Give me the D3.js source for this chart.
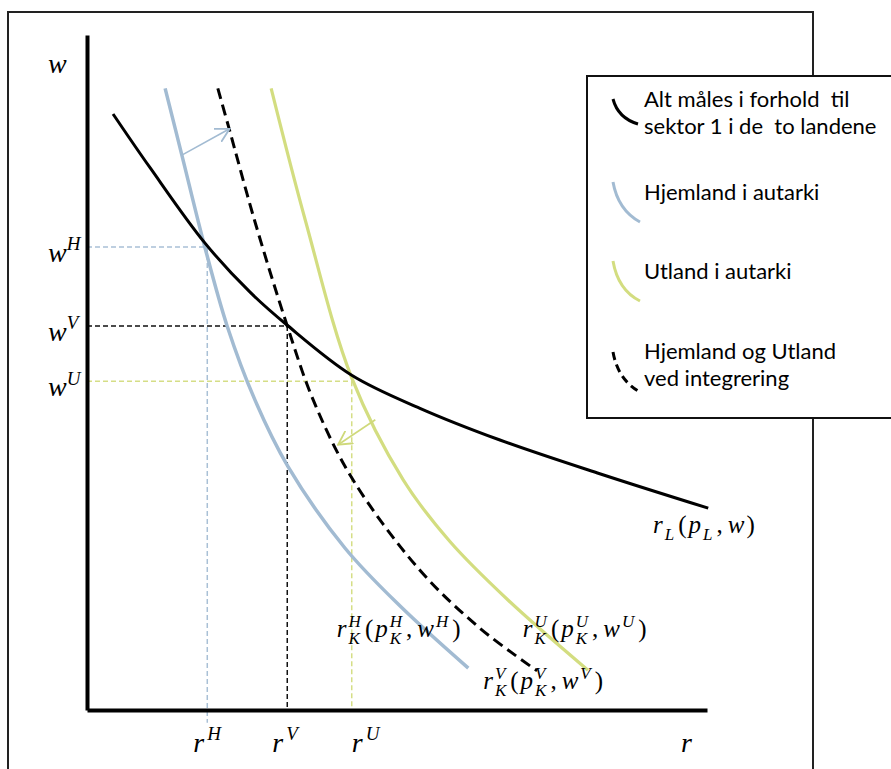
<!DOCTYPE html>
<html><head><meta charset="utf-8">
<script src="https://cdn.jsdelivr.net/npm/d3@7"></script>
<style>body{margin:0;background:#fff;overflow:hidden}</style>
</head><body>
<svg id="c" width="891" height="769"></svg>
<script>
// ---- data (r on x, w on y) ----
const curveL = [[4.2,88.3],[10.2,80.3],[19.0,69.2],[26.3,61.9],[32.3,57.0],[42.7,49.6],[53.7,44.7],[66.6,40.0],[82.7,35.0],[100.2,29.9]];
const curveH = [[12.6,92.1],[15.3,82.2],[19.0,68.6],[22.6,56.9],[27.1,45.9],[32.4,36.1],[41.6,24.0],[50.5,15.4],[61.5,6.2]];
const curveV = [[21.1,92.1],[22.9,86.2],[27.1,72.3],[32.3,56.9],[36.5,45.9],[42.7,34.4],[53.7,20.7],[63.4,12.1],[72.6,5.8]];
const curveU = [[29.7,92.1],[35.2,72.6],[42.7,49.2],[51.0,34.1],[58.5,25.0],[67.9,16.3],[80.8,5.9]];
const eqKeys = ["H","V","U"];
const eqR = [19.4, 32.3, 42.7];
const eqW = [68.6, 56.9, 48.7];
const eqGuideBottom = [-1.9, 0, -0.3];
const arrowBlue = [[15.3,82.2],[23.0,86.1]];
const arrowGreen = [[46.5,43.0],[40.5,39.3]];
const legendLabels = [["Alt måles i forhold  til","sektor 1 i de  to landene"],["Hjemland i autarki"],["Utland i autarki"],["Hjemland og Utland","ved integrering"]];

// ---- styles ----
const BLUE = "#a2bbd2", GREEN = "#d3dd80", BLUE_G = "#a9c0d6", GREEN_G = "#d5de86";
const MATH = "'Liberation Serif', 'DejaVu Serif', serif";
const SANS = "Lato, 'Open Sans', sans-serif";

const svg = d3.select("#c");
const x = d3.scaleLinear().domain([0,100]).range([87,707]);
const y = d3.scaleLinear().domain([0,100]).range([710,35]);

// outer frame
svg.append("rect").attr("x",8).attr("y",12).attr("width",805).attr("height",820)
  .attr("fill","none").attr("stroke","#222").attr("stroke-width",2);

const defs = svg.append("defs");
function marker(id,color){
  defs.append("marker").attr("id",id).attr("viewBox","0 -7 13 14").attr("refX",12).attr("refY",0)
    .attr("markerWidth",15).attr("markerHeight",16).attr("markerUnits","userSpaceOnUse").attr("orient","auto")
    .append("path").attr("d","M0,-6.5L12,0L0,6.5").attr("fill","none").attr("stroke",color).attr("stroke-width",1.6);
}
marker("mb",BLUE); marker("mg","#cfd97a");

// guides
const guideCol = [BLUE_G, "#111", GREEN_G];
eqKeys.forEach((k,i)=>{
  svg.append("line").attr("x1",x(0)).attr("x2",x(eqR[i])).attr("y1",y(eqW[i])).attr("y2",y(eqW[i]))
    .attr("stroke",guideCol[i]).attr("stroke-width",1.5).attr("stroke-dasharray","5,3");
  svg.append("line").attr("x1",x(eqR[i])).attr("x2",x(eqR[i])).attr("y1",y(eqW[i])).attr("y2",y(eqGuideBottom[i]))
    .attr("stroke",guideCol[i]).attr("stroke-width",1.5).attr("stroke-dasharray","5,3");
});

const line = d3.line().x(d=>x(d[0])).y(d=>y(d[1])).curve(d3.curveCatmullRom.alpha(0.5));
svg.append("path").datum(curveH).attr("d",line).attr("fill","none").attr("stroke",BLUE).attr("stroke-width",3.5);
svg.append("path").datum(curveU).attr("d",line).attr("fill","none").attr("stroke",GREEN).attr("stroke-width",3.2);
svg.append("path").datum(curveV).attr("d",line).attr("fill","none").attr("stroke","#000").attr("stroke-width",3).attr("stroke-dasharray","11,6");
svg.append("path").datum(curveL).attr("d",line).attr("fill","none").attr("stroke","#000").attr("stroke-width",3);

// arrows
const straight = d3.line().x(d=>x(d[0])).y(d=>y(d[1]));
svg.append("path").datum(arrowBlue).attr("d",straight).attr("stroke",BLUE).attr("stroke-width",1.6).attr("fill","none").attr("marker-end","url(#mb)");
svg.append("path").datum(arrowGreen).attr("d",straight).attr("stroke","#cfd97a").attr("stroke-width",1.6).attr("fill","none").attr("marker-end","url(#mg)");

// axes
const xAxis = d3.axisBottom(x).tickValues([]).tickSizeOuter(0);
const yAxis = d3.axisLeft(y).tickValues([]).tickSizeOuter(0);
svg.append("g").attr("transform",`translate(0,${y(0)})`).call(xAxis).select(".domain").attr("stroke","#000").attr("stroke-width",4);
svg.append("g").attr("transform",`translate(${x(0)},0)`).call(yAxis).select(".domain").attr("stroke","#000").attr("stroke-width",4);

// math label builder
function mathLabel(px, py, pieces, size, gap){
  gap = gap||0;
  const g = svg.append("g").attr("transform",`translate(${px},${py})`).attr("font-family",MATH).attr("fill","#000");
  const small = size*0.68;
  let cx = 0;
  pieces.forEach(p=>{
    if (p.b!==undefined){
      const t = g.append("text").attr("x",cx).attr("y",0).attr("font-size",size)
        .attr("font-style",p.up?"normal":"italic").text(p.b);
      cx += t.node().getComputedTextLength() + (p.gap||0) + gap;
    } else {
      let w = 0;
      if (p.sup){ const t=g.append("text").attr("x",cx+(p.supdx||0)).attr("y",-size*0.42).attr("font-size",small).attr("font-style","italic").text(p.sup); w=Math.max(w,t.node().getComputedTextLength()+(p.supdx||0)); }
      if (p.sub){ const t=g.append("text").attr("x",cx).attr("y",size*0.28).attr("font-size",small).attr("font-style","italic").text(p.sub); w=Math.max(w,t.node().getComputedTextLength()); }
      cx += w + 2 + gap;
    }
  });
  return g;
}

// axis titles
mathLabel(x(0)-39, y(100)+38, [{b:"w"}], 28);
mathLabel(681, 752, [{b:"r"}], 28);
// tick labels
const tickDx = [-14,-15,0];
eqKeys.forEach((k,i)=>{
  mathLabel(x(eqR[i])+tickDx[i], 752, [{b:"r",gap:1},{sup:k,supdx:2}], 28);
  mathLabel(48, y(eqW[i])+15, [{b:"w"},{sup:k}], 28);
});
// curve labels
function kLabel(k){ return [{b:"r"},{sub:"K",sup:k},{b:"(",up:true},{b:"p"},{sub:"K",sup:k},{b:",",up:true,gap:3},{b:"w"},{sup:k},{b:")",up:true}]; }
mathLabel(x(40.3), y(10.8), kLabel("H"), 25, 2);
mathLabel(x(70.3), y(10.8), kLabel("U"), 25, 2);
mathLabel(x(63.9), y(3.1), kLabel("V"), 25, 2);
mathLabel(x(91.3), y(26.2), [{b:"r"},{sub:"L"},{b:"(",up:true},{b:"p"},{sub:"L"},{b:",",up:true,gap:3},{b:"w"},{b:")",up:true}], 25, 2);

// legend
const lg = svg.append("g");
lg.append("rect").attr("x",587).attr("y",76).attr("width",330).attr("height",342).attr("fill","#fff").attr("stroke","#111").attr("stroke-width",2);
const legSym = [
  {d:"M613,99 Q618,118 638,124", c:"#000", dash:null},
  {d:"M613,182 Q618,210 640,222", c:BLUE, dash:null},
  {d:"M613,261 Q618,290 640,301", c:GREEN, dash:null},
  {d:"M613,352 Q618,380 640,392", c:"#000", dash:"8,5"}
];
const legBase = [107, 200, 279, 359];
legendLabels.forEach((lines,i)=>{
  lg.append("path").attr("d",legSym[i].d).attr("fill","none").attr("stroke",legSym[i].c).attr("stroke-width",3)
    .attr("stroke-dasharray",legSym[i].dash);
  const t = lg.append("text").attr("x",644).attr("y",legBase[i]).attr("font-family",SANS).attr("font-size",22)
    .attr("fill","#000").style("white-space","pre");
  lines.forEach((s,j)=>{
    t.append("tspan").attr("x",644).attr("dy",j===0?0:27).text(s);
  });
});
</script>
</body></html>
